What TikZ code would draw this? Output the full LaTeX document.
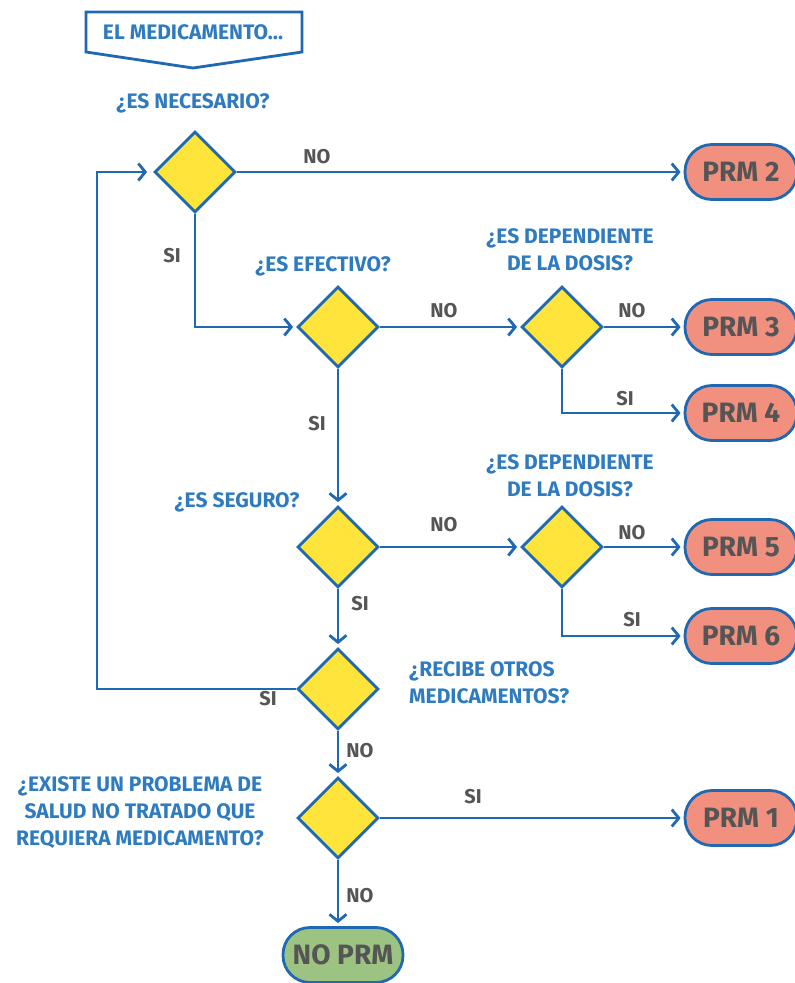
\documentclass[tikz,border=0pt]{standalone}
\usepackage{fontspec}
\setmainfont{Fira Sans}
\usetikzlibrary{shapes.geometric,arrows.meta}

\definecolor{azul}{HTML}{1F68B2}
\definecolor{azultexto}{HTML}{2F7BC0}
\definecolor{amarillo}{HTML}{FFE53B}
\definecolor{salmon}{HTML}{F1907F}
\definecolor{verde}{HTML}{9DC383}
\definecolor{gris}{HTML}{555555}

\begin{document}
\begin{tikzpicture}[x=1pt,y=-1pt]
        \tikzstyle{decision}=[diamond,draw=azul,fill=amarillo,line width=2.8pt,minimum size=81pt,inner sep=0pt]
        \tikzstyle{prm}=[rectangle,draw=azul,fill=salmon,line width=2.8pt,rounded corners=27pt,minimum width=112pt,minimum height=55pt,text=gris,font=\bfseries\fontsize{28}{30}\selectfont]
        \tikzstyle{pregunta}=[text=azultexto,font=\bfseries\fontsize{21}{27}\selectfont,align=center,inner sep=0pt]
        \tikzstyle{etiqueta}=[text=gris,font=\bfseries\fontsize{20}{20}\selectfont,inner sep=0pt]
        \tikzstyle{flecha}=[draw=azul,line width=2.8pt,shorten >=3pt,-{Straight Barb[length=7pt,width=17pt,line width=2.8pt]}]
        \tikzstyle{linea}=[draw=azul,line width=2.8pt]
        \useasboundingbox (0,0) rectangle (795,983);

        % inicio
        \node[pregunta] (inicio) at (193,32) {EL MEDICAMENTO\ldots};
        \draw[linea] (86,12) -- (302,12) -- (302,52) -- (193,68) -- (86,52) -- cycle;

        % decisiones
        \node[decision] (d1) at (195,172) {};
        \node[decision] (d2) at (338,327) {};
        \node[decision] (d3) at (562,327) {};
        \node[decision] (d4) at (338,547) {};
        \node[decision] (d5) at (562,547) {};
        \node[decision] (d6) at (338,689) {};
        \node[decision] (d7) at (338,818) {};

        % resultados
        \node[prm] (prm2) at (741,172) {PRM 2};
        \node[prm] (prm3) at (741,327) {PRM 3};
        \node[prm] (prm4) at (741,413) {PRM 4};
        \node[prm] (prm5) at (741,547) {PRM 5};
        \node[prm] (prm6) at (741,636) {PRM 6};
        \node[prm] (prm1) at (741,818) {PRM 1};
        \node[prm,fill=verde,minimum width=120pt] (noprm) at (343,955) {NO PRM};

        % preguntas
        \node[pregunta] (q1) at (193,103) {¿ES NECESARIO?};
        \node[pregunta] (q2) at (323,266) {¿ES EFECTIVO?};
        \node[pregunta] (q3) at (570,250) {¿ES DEPENDIENTE\\DE LA DOSIS?};
        \node[pregunta] (q4) at (237,502) {¿ES SEGURO?};
        \node[pregunta] (q5) at (570,476) {¿ES DEPENDIENTE\\DE LA DOSIS?};
        \node[pregunta,align=left,anchor=west] (q6) at (409,683) {¿RECIBE OTROS\\MEDICAMENTOS?};
        \node[pregunta] (q7) at (140,813) {¿EXISTE UN PROBLEMA DE\\SALUD NO TRATADO QUE\\REQUIERA MEDICAMENTO?};

        % conexiones
        \draw[flecha] (d1.east) -- (prm2.west);
        \draw[flecha] (d1.south) |- (d2.west);
        \draw[flecha] (d2.east) -- (d3.west);
        \draw[flecha] (d3.east) -- (prm3.west);
        \draw[flecha] (d3.south) |- (prm4.west);
        \draw[flecha] (d2.south) -- (d4.north);
        \draw[flecha] (d4.east) -- (d5.west);
        \draw[flecha] (d5.east) -- (prm5.west);
        \draw[flecha] (d5.south) |- (prm6.west);
        \draw[flecha] (d4.south) -- (d6.north);
        \draw[flecha] (d6.west) -- (97,689) |- ([xshift=-3pt]d1.west);
        \draw[flecha] (d6.south) -- (d7.north);
        \draw[flecha] (d7.east) -- (prm1.west);
        \draw[flecha] (d7.south) -- (d7.south |- noprm.north);

        % etiquetas
        \node[etiqueta] (e1) at (317,157) {NO};
        \node[etiqueta] (e2) at (172,256) {SI};
        \node[etiqueta] (e3) at (444,311) {NO};
        \node[etiqueta] (e4) at (632,311) {NO};
        \node[etiqueta] (e5) at (625,399) {SI};
        \node[etiqueta] (e6) at (317,424) {SI};
        \node[etiqueta] (e7) at (444,525) {NO};
        \node[etiqueta] (e8) at (632,533) {NO};
        \node[etiqueta] (e9) at (632,620) {SI};
        \node[etiqueta] (e10) at (360,604) {SI};
        \node[etiqueta] (e11) at (268,699) {SI};
        \node[etiqueta] (e12) at (360,751) {NO};
        \node[etiqueta] (e13) at (473,797) {SI};
        \node[etiqueta] (e14) at (360,896) {NO};
\end{tikzpicture}
\end{document}
